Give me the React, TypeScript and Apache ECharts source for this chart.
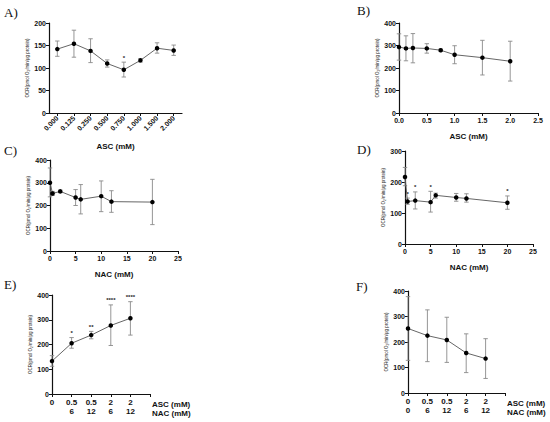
import React, { useEffect, useRef } from "react";
import * as echarts from "echarts";

// ---- Data ----
const catsA = ["0.000", "0.125", "0.250", "0.500", "0.750", "1.000", "1.500", "2.000"];
const meanA = [142, 154, 138, 110, 96, 117, 144, 139];
const lowA = [126, 124, 112, 102, 80, 113, 133, 128];
const highA = [160, 184, 165, 118, 113, 121, 156, 151];
const sigA = ["", "", "", "", "*", "", "", ""];

const xB = [0, 0.125, 0.25, 0.5, 0.75, 1.0, 1.5, 2.0];
const meanB = [293, 287, 289, 287, 279, 259, 246, 230];
const lowB = [235, 232, 223, 266, 274, 219, 169, 142];
const highB = [352, 343, 353, 308, 284, 299, 323, 319];

const xC = [0, 0.5, 2, 5, 6, 10, 12, 20];
const meanC = [300, 253, 262, 235, 227, 241, 217, 215];
const lowC = [238, 244, 256, 200, 163, 173, 170, 116];
const highC = [365, 262, 268, 270, 292, 308, 265, 315];

const xD = [0, 0.5, 2, 5, 6, 10, 12, 20];
const meanD = [216, 137, 140, 135, 157, 150, 147, 133];
const lowD = [188, 128, 113, 103, 148, 138, 135, 112];
const highD = [247, 148, 168, 170, 164, 163, 162, 155];
const sigD = ["", "*", "*", "*", "", "", "", "*"];

const ascLabels = ["0", "0.5", "0.5", "2", "2"];
const nacLabelsE = ["", "6", "12", "6", "12"];
const nacLabelsF = ["0", "6", "12", "6", "12"];

const meanE = [133, 205, 238, 277, 306];
const lowE = [112, 185, 223, 196, 238];
const highE = [155, 228, 253, 360, 373];
const sigE = ["", "*", "**", "****", "****"];

const meanF = [253, 225, 208, 157, 135];
const lowF = [128, 123, 120, 80, 57];
const highF = [378, 326, 297, 232, 213];

const yName = "OCR(pmol O\u2082/min/\u03bcg protein)";
const FONT = "Liberation Sans, Arial, sans-serif";

function errSeries(idx: number, xs: number[], lows: number[], highs: number[], sig?: string[]) {
  return {
    type: "custom",
    xAxisIndex: idx,
    yAxisIndex: idx,
    z: 1,
    data: xs.map((x, i) => [x, lows[i], highs[i]]),
    renderItem: (params: any, api: any) => {
      const x = api.value(0);
      const lo = api.coord([x, api.value(1)]);
      const hi = api.coord([x, api.value(2)]);
      const w = 2.2;
      const st = { stroke: "#8a8a8a", lineWidth: 0.9 };
      const children: any[] = [
        { type: "line", shape: { x1: lo[0], y1: lo[1], x2: hi[0], y2: hi[1] }, style: st },
        { type: "line", shape: { x1: lo[0] - w, y1: lo[1], x2: lo[0] + w, y2: lo[1] }, style: st },
        { type: "line", shape: { x1: hi[0] - w, y1: hi[1], x2: hi[0] + w, y2: hi[1] }, style: st },
      ];
      const s = sig ? sig[params.dataIndex] : "";
      if (s) {
        children.push({
          type: "text",
          x: hi[0],
          y: hi[1] - 1.5,
          style: { text: s, fill: "#222", font: "bold 6px " + FONT, align: "center", verticalAlign: "bottom" },
        });
      }
      return { type: "group", children };
    },
  };
}

function lineSeries(idx: number, xs: number[], means: number[]) {
  return {
    type: "line",
    xAxisIndex: idx,
    yAxisIndex: idx,
    z: 3,
    data: xs.map((x, i) => [x, means[i]]),
    symbol: "circle",
    symbolSize: 4.5,
    itemStyle: { color: "#000" },
    lineStyle: { color: "#555", width: 0.9 },
  };
}

const axisLine = { show: true, lineStyle: { color: "#111", width: 1.2 } };
const axisTick = { show: true, length: 3, lineStyle: { color: "#111", width: 1 } };
const labelStyle = { color: "#111", fontSize: 7, fontWeight: "bold" as const, fontFamily: FONT };

function yAxis(idx: number, max: number, interval: number) {
  return {
    type: "value",
    gridIndex: idx,
    min: 0,
    max,
    interval,
    axisLine,
    axisTick,
    splitLine: { show: false },
    axisLabel: { ...labelStyle, margin: 3 },
    name: yName,
    nameLocation: "middle",
    nameGap: 19,
    nameTextStyle: { fontSize: 4.5, color: "#222", fontFamily: FONT },
  };
}

function valueXAxis(idx: number, max: number, interval: number, name: string, fmt?: (v: number) => string) {
  return {
    type: "value",
    gridIndex: idx,
    min: 0,
    max,
    interval,
    axisLine: { ...axisLine, onZero: false },
    axisTick,
    splitLine: { show: false },
    axisLabel: { ...labelStyle, margin: 4, formatter: fmt },
    name,
    nameLocation: "middle",
    nameGap: 19,
    nameTextStyle: { fontSize: 8, fontWeight: "bold", color: "#111", fontFamily: FONT },
  };
}

function comboXAxis(idx: number, nac: string[]) {
  return {
    type: "value",
    gridIndex: idx,
    min: 0,
    max: 5,
    interval: 1,
    axisLine: { ...axisLine, onZero: false },
    axisTick,
    splitLine: { show: false },
    axisLabel: {
      ...labelStyle,
      fontSize: 8,
      lineHeight: 9,
      margin: 4,
      verticalAlign: "top",
      formatter: (v: number) => (v < ascLabels.length ? ascLabels[v] + "\n" + nac[v] : ""),
    },
    name: "ASC (mM)\nNAC (mM)",
    nameLocation: "end",
    nameGap: 2,
    nameTextStyle: {
      fontSize: 8,
      lineHeight: 9,
      fontWeight: "bold",
      color: "#111",
      fontFamily: FONT,
      align: "left",
      verticalAlign: "top",
      padding: [6, 0, 0, 0],
    },
  };
}

const idx5 = [0, 1, 2, 3, 4];

export default function App() {
  const ref = useRef<HTMLDivElement>(null);
  useEffect(() => {
    if (!ref.current) return;
    const chart = echarts.init(ref.current, null, { renderer: "svg" });
    const panelLabel = (text: string, x: number, y: number) => ({
      type: "text",
      x,
      y,
      style: { text, font: "13px 'Liberation Serif', 'Times New Roman', serif", fill: "#111" },
    });
    chart.setOption({
      animation: false,
      backgroundColor: "#fff",
      grid: [
        { left: 49, top: 23, width: 133, height: 90 },
        { left: 399, top: 23, width: 139, height: 90 },
        { left: 50, top: 160, width: 128, height: 91 },
        { left: 405, top: 151, width: 128, height: 93 },
        { left: 52, top: 295, width: 98, height: 99 },
        { left: 408, top: 291, width: 97, height: 102 },
      ],
      xAxis: [
        {
          type: "category",
          gridIndex: 0,
          data: catsA,
          axisLine,
          axisTick: { ...axisTick, alignWithLabel: true },
          axisLabel: { ...labelStyle, rotate: 45, margin: 4, interval: 0 },
          name: "ASC (mM)",
          nameLocation: "middle",
          nameGap: 29,
          nameTextStyle: { fontSize: 8, fontWeight: "bold", color: "#111", fontFamily: FONT },
        },
        valueXAxis(1, 2.5, 0.5, "ASC (mM)", (v: number) => v.toFixed(1)),
        valueXAxis(2, 25, 5, "NAC (mM)"),
        valueXAxis(3, 25, 5, "NAC (mM)"),
        comboXAxis(4, nacLabelsE),
        comboXAxis(5, nacLabelsF),
      ],
      yAxis: [
        yAxis(0, 200, 50),
        yAxis(1, 400, 100),
        yAxis(2, 400, 100),
        yAxis(3, 300, 100),
        yAxis(4, 400, 100),
        yAxis(5, 400, 100),
      ],
      series: [
        errSeries(0, catsA.map((_, i) => i), lowA, highA, sigA),
        lineSeries(0, catsA.map((_, i) => i), meanA),
        errSeries(1, xB, lowB, highB),
        lineSeries(1, xB, meanB),
        errSeries(2, xC, lowC, highC),
        lineSeries(2, xC, meanC),
        errSeries(3, xD, lowD, highD, sigD),
        lineSeries(3, xD, meanD),
        errSeries(4, idx5, lowE, highE, sigE),
        lineSeries(4, idx5, meanE),
        errSeries(5, idx5, lowF, highF),
        lineSeries(5, idx5, meanF),
      ],
      graphic: [
        panelLabel("A)", 4, 6),
        panelLabel("B)", 357, 4),
        panelLabel("C)", 4, 144),
        panelLabel("D)", 357, 143),
        panelLabel("E)", 4, 278),
        panelLabel("F)", 356, 280),
      ],
    });
    return () => chart.dispose();
  }, []);
  return (
    <div
      ref={ref}
      style={{ position: "fixed", left: 0, top: 0, width: 550, height: 422, background: "#fff" }}
    />
  );
}
